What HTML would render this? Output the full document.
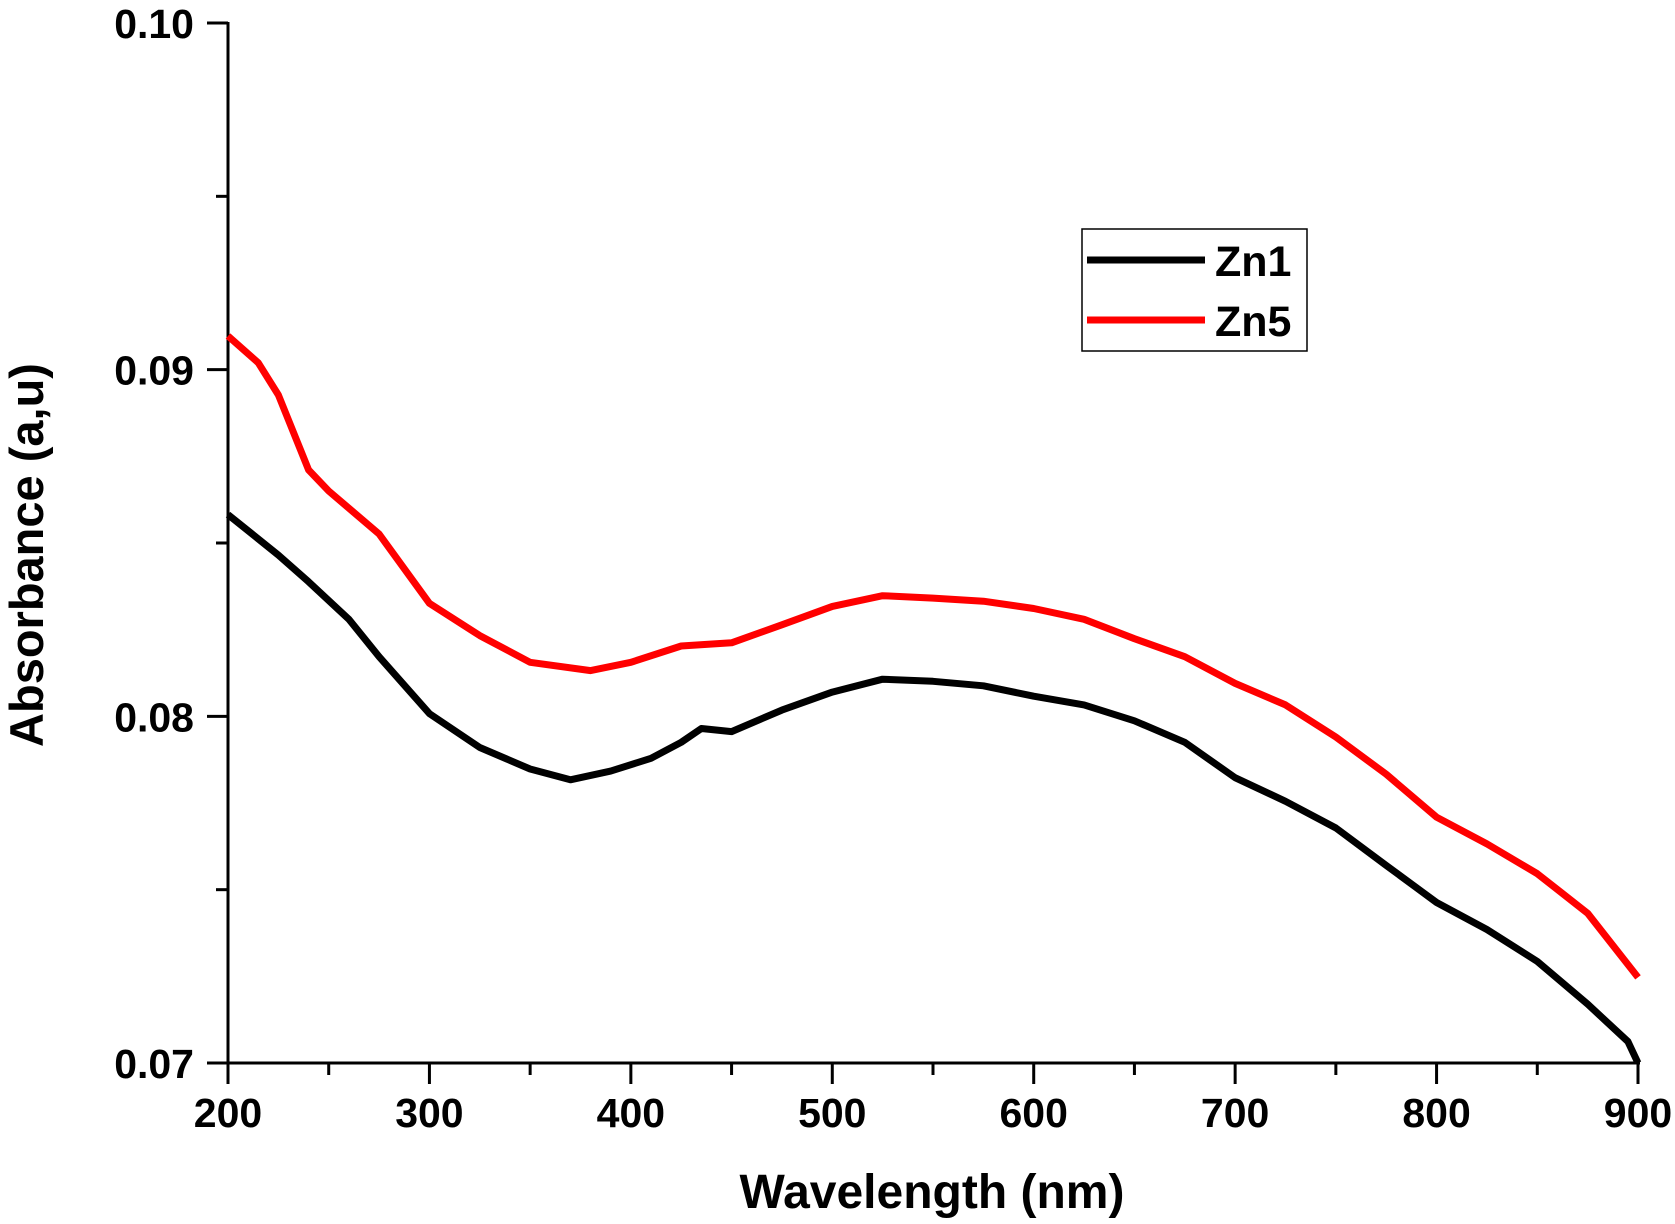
<!DOCTYPE html>
<html><head><meta charset="utf-8"><style>
html,body{margin:0;padding:0;background:#fff}
svg{display:block;font-family:"Liberation Sans",Arial,sans-serif;font-weight:bold}
</style></head><body>
<svg id="chart" width="1675" height="1224" viewBox="0 0 1675 1224">
<g id="axes"></g>
<g id="series"></g>
<text x="932" y="1208" text-anchor="middle" font-size="48">Wavelength (nm)</text>
<text transform="translate(43,555) rotate(-90)" text-anchor="middle" font-size="47">Absorbance (a,u)</text>
<g>
<rect x="1082" y="229" width="225" height="122" fill="#fff" stroke="#000" stroke-width="1.5"/>
<line x1="1087" y1="260" x2="1205" y2="260" stroke="#000" stroke-width="7"/>
<text x="1215" y="276" font-size="43">Zn1</text>
<line x1="1087" y1="320" x2="1205" y2="320" stroke="#f00" stroke-width="7"/>
<text x="1215" y="336" font-size="43">Zn5</text>
</g>
</svg>
<script>
const xTicks = [200,300,400,500,600,700,800,900];
const yTicks = [0.07,0.08,0.09,0.10];
const yTickLabels = ["0.07","0.08","0.09","0.10"];
const zn1X = [200,225,240,260,275,300,325,350,370,390,410,425,435,450,475,500,525,550,575,600,625,650,675,700,725,750,775,800,825,850,875,895,900];
const zn1Y = [0.08582,0.08465,0.08388,0.08280,0.08172,0.08008,0.07910,0.07848,0.07817,0.07842,0.07879,0.07925,0.07965,0.07956,0.08018,0.08070,0.08107,0.08101,0.08088,0.08058,0.08033,0.07987,0.07925,0.07823,0.07755,0.07678,0.07570,0.07463,0.07385,0.07293,0.07170,0.07062,0.0700];
const zn5X = [200,215,225,240,250,275,300,325,350,380,400,425,450,475,500,525,550,575,600,625,650,675,700,725,750,775,800,825,850,875,900];
const zn5Y = [0.09097,0.09020,0.08927,0.08711,0.08650,0.08526,0.08326,0.08233,0.08156,0.08132,0.08156,0.08203,0.08212,0.08264,0.08317,0.08348,0.08341,0.08332,0.08311,0.08280,0.08224,0.08172,0.08095,0.08033,0.07940,0.07833,0.07709,0.07632,0.07546,0.07432,0.07247];

const X0=228,X1=1638,Y0=1063,Y1=23;
const xs=v=>X0+(v-200)/(900-200)*(X1-X0);
const ys=v=>Y0-(v-0.07)/(0.10-0.07)*(Y0-Y1);
const NS="http://www.w3.org/2000/svg";
const axes=document.getElementById('axes'), series=document.getElementById('series');
function mk(tag,attrs,parent){const e=document.createElementNS(NS,tag);for(const k in attrs)e.setAttribute(k,attrs[k]);parent.appendChild(e);return e;}

let l=mk('line',{x1:X0,y1:Y0,x2:X1+2,y2:Y0,stroke:'#000','stroke-width':3},axes);


l=mk('line',{x1:X0,y1:Y0+1,x2:X0,y2:Y1-1,stroke:'#000','stroke-width':3},axes);



for(let v=200;v<=900;v+=50){
  const major=v%100===0;
  const t=mk('line',{x1:xs(v),y1:Y0,x2:xs(v),y2:Y0+(major?21:12),stroke:'#000','stroke-width':3},axes);
  
  
}
xTicks.forEach(v=>{
  const t=mk('text',{x:xs(v),y:1127,'text-anchor':'middle','font-size':41},axes);
  t.textContent=v;
  
  
});
for(let i=0;i<=6;i++){
  const v=0.07+i*0.005, major=i%2===0;
  const t=mk('line',{x1:X0,y1:ys(v),x2:X0-(major?21:12),y2:ys(v),stroke:'#000','stroke-width':3},axes);
  
  
}
yTicks.forEach((v,i)=>{
  const t=mk('text',{x:194,y:ys(v)+15,'text-anchor':'end','font-size':41},axes);
  t.textContent=yTickLabels[i];
  
  
});
function drawLine(xa,ya,color,name){
  const d=xa.map((x,i)=>(i?'L':'M')+xs(x).toFixed(1)+','+ys(ya[i]).toFixed(1)).join(' ');
  const p=mk('path',{d:d,fill:'none',stroke:color,'stroke-width':7,'stroke-linejoin':'round'},series);
  
  
}
drawLine(zn1X,zn1Y,'#000','line-zn1');
drawLine(zn5X,zn5Y,'#f00','line-zn5');
</script>
</body></html>
